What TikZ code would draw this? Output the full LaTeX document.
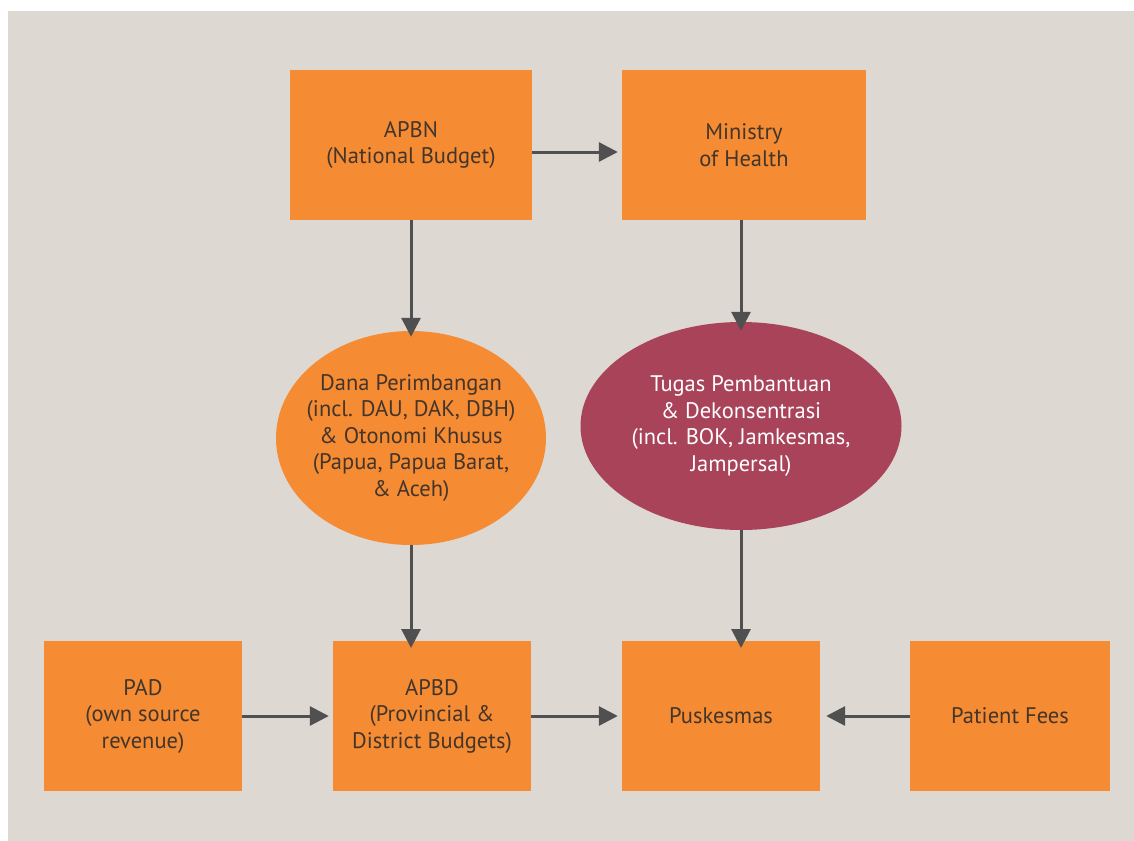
\documentclass[tikz,border=0pt]{standalone}
\usepackage{fontspec}
\setmainfont{PT Sans}
\usetikzlibrary{arrows.meta,shapes.geometric}
\definecolor{bg}{HTML}{DDD8D1}
\definecolor{boxor}{HTML}{F58B33}
\definecolor{ellred}{HTML}{A8435A}
\definecolor{txt}{HTML}{43352A}
\definecolor{arr}{HTML}{505050}
\tikzset{
  fbox/.style={rectangle,fill=boxor,draw=none,align=center,text=txt,inner sep=0pt},
  fell/.style={ellipse,draw=none,align=center,inner xsep=-60pt,inner ysep=-40pt},
  flow/.style={draw=arr,line width=3pt,-{Triangle[length=19pt,width=19pt]}},
  every node/.style={font=\fontsize{22.5}{26.5}\selectfont}
}
\begin{document}
\begin{tikzpicture}[x=1pt,y=-1pt]
\useasboundingbox (0,0) rectangle (1134,840);
\fill[white] (0,0) rectangle (1134,840);
\fill[bg] (8,11) rectangle (1136,842);
\node[fbox,minimum width=242pt,minimum height=150pt] (apbn) at (411,145) {APBN\\(National Budget)};
\node[fbox,minimum width=244pt,minimum height=150pt] (moh) at (744,145) {Ministry\\of Health};
\node[fell,fill=boxor,text=txt,minimum width=270pt,minimum height=214pt] (dana) at (411,438) {Dana Perimbangan\\(incl. DAU, DAK, DBH)\\\& Otonomi Khusus\\(Papua, Papua Barat,\\\& Aceh)};
\node[fell,fill=ellred,text=white,minimum width=321pt,minimum height=208pt] (tugas) at (741,426) {Tugas Pembantuan\\\& Dekonsentrasi\\(incl. BOK, Jamkesmas,\\Jampersal)};
\node[fbox,minimum width=198pt,minimum height=150pt] (pad) at (143,716) {PAD\\(own source\\revenue)};
\node[fbox,minimum width=198pt,minimum height=150pt] (apbd) at (432,716) {APBD\\(Provincial \&\\District Budgets)};
\node[fbox,minimum width=198pt,minimum height=150pt] (pusk) at (721,716) {Puskesmas};
\node[fbox,minimum width=200pt,minimum height=150pt] (fees) at (1010,716) {Patient Fees};
\coordinate (a1) at (apbn.east |- 0,152);
\coordinate (a2) at (moh.west |- 0,152);
\draw[flow] (a1) -- ([xshift=-4pt]a2);
\draw[flow] (apbn.south) -- ([yshift=-6pt]dana.north);
\draw[flow] (741,220) -- ([yshift=-9pt]tugas.north);
\coordinate (b1) at (411,641);
\draw[flow] (dana.south) -- ([yshift=-7pt]b1);
\coordinate (b2) at (741,641);
\draw[flow] (tugas.south) -- ([yshift=-7pt]b2);
\draw[flow] (pad.east) -- ([xshift=-4pt]apbd.west);
\draw[flow] (apbd.east) -- ([xshift=-4pt]pusk.west);
\draw[flow] (fees.west) -- ([xshift=6pt]pusk.east);
\end{tikzpicture}
\end{document}
